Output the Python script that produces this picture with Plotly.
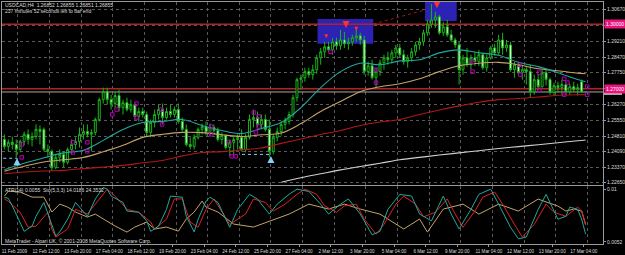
import plotly.graph_objects as go

# ---------------- data ----------------
bars = list(range(148))
opens = [1.2465,1.2433,1.2452,1.2442,1.2419,1.2456,1.2489,1.2465,1.2479,1.2512,
         1.2512,1.2419,1.2410,1.2336,1.2382,1.2396,1.2359,1.2419,1.2442,1.2456,
         1.2489,1.2502,1.2489,1.2498,1.2558,1.2650,1.2687,1.2650,1.2632,1.2669,
         1.2613,1.2636,1.2604,1.2627,1.2572,1.2595,1.2581,1.2498,1.2544,1.2581,
         1.2604,1.2567,1.2595,1.2581,1.2604,1.2549,1.2512,1.2442,1.2433,1.2475,
         1.2512,1.2525,1.2498,1.2521,1.2507,1.2465,1.2484,1.2428,1.2452,1.2465,
         1.2475,1.2419,1.2475,1.2558,1.2567,1.2535,1.2558,1.2512,1.2410,1.2475,
         1.2502,1.2535,1.2549,1.2581,1.2659,1.2743,1.2752,1.2780,1.2766,1.2789,
         1.2844,1.2872,1.2895,1.2881,1.2918,1.2900,1.2927,1.2909,1.2918,1.2937,
         1.2946,1.2927,1.2780,1.2807,1.2752,1.2780,1.2821,1.2844,1.2835,1.2867,
         1.2890,1.2858,1.2826,1.2844,1.2872,1.2904,1.2918,1.2960,1.3001,1.3020,
         1.3034,1.2960,1.2988,1.2951,1.2927,1.2904,1.2789,1.2844,1.2812,1.2844,
         1.2826,1.2858,1.2798,1.2844,1.2890,1.2867,1.2927,1.2890,1.2904,1.2789,
         1.2812,1.2775,1.2789,1.2780,1.2687,1.2743,1.2710,1.2775,1.2743,1.2683,
         1.2715,1.2706,1.2720,1.2687,1.2710,1.2696,1.2733,1.26852]
highs = [1.2489,1.2465,1.2479,1.2465,1.2465,1.2502,1.2512,1.2498,1.2535,1.2530,
         1.2521,1.2442,1.2419,1.2396,1.2419,1.2410,1.2428,1.2465,1.2475,1.2521,
         1.2535,1.2535,1.2512,1.2567,1.2659,1.2706,1.2706,1.2673,1.2687,1.2696,
         1.2650,1.2659,1.2650,1.2636,1.2613,1.2613,1.2595,1.2558,1.2604,1.2627,
         1.2632,1.2613,1.2627,1.2618,1.2632,1.2567,1.2535,1.2475,1.2489,1.2521,
         1.2539,1.2549,1.2539,1.2535,1.2521,1.2498,1.2489,1.2465,1.2479,1.2489,
         1.2512,1.2489,1.2581,1.2604,1.2595,1.2581,1.2581,1.2558,1.2489,1.2521,
         1.2549,1.2567,1.2595,1.2673,1.2752,1.2766,1.2798,1.2798,1.2812,1.2858,
         1.2890,1.2918,1.2918,1.2937,1.2937,1.2974,1.2964,1.2937,1.2951,1.2974,
         1.2960,1.2946,1.2826,1.2835,1.2798,1.2835,1.2858,1.2872,1.2881,1.2904,
         1.2909,1.2881,1.2858,1.2890,1.2918,1.2937,1.2974,1.3020,1.3094,1.3057,
         1.3043,1.3011,1.3020,1.2974,1.2937,1.2918,1.2858,1.2890,1.2858,1.2872,
         1.2881,1.2863,1.2858,1.2900,1.2909,1.2951,1.2960,1.2927,1.2918,1.2826,
         1.2826,1.2812,1.2807,1.2812,1.2766,1.2766,1.2789,1.2789,1.2752,1.2729,
         1.2733,1.2743,1.2733,1.2724,1.2733,1.2724,1.2743,1.26855]
lows = [1.2419,1.2410,1.2419,1.2382,1.2405,1.2438,1.2442,1.2433,1.2465,1.2442,
        1.2410,1.2382,1.2318,1.2327,1.2359,1.2336,1.2350,1.2396,1.2419,1.2428,
        1.2465,1.2475,1.2410,1.2484,1.2549,1.2632,1.2627,1.2604,1.2613,1.2595,
        1.2581,1.2595,1.2590,1.2558,1.2549,1.2567,1.2479,1.2475,1.2521,1.2558,
        1.2535,1.2558,1.2567,1.2567,1.2539,1.2502,1.2433,1.2419,1.2419,1.2465,
        1.2489,1.2484,1.2479,1.2489,1.2456,1.2442,1.2419,1.2387,1.2396,1.2419,
        1.2410,1.2405,1.2465,1.2521,1.2521,1.2512,1.2502,1.2382,1.2396,1.2456,
        1.2484,1.2512,1.2535,1.2567,1.2641,1.2696,1.2733,1.2752,1.2743,1.2770,
        1.2812,1.2844,1.2872,1.2858,1.2881,1.2881,1.2890,1.2881,1.2900,1.2918,
        1.2904,1.2766,1.2761,1.2743,1.2706,1.2761,1.2789,1.2812,1.2817,1.2844,
        1.2844,1.2812,1.2798,1.2826,1.2854,1.2881,1.2900,1.2946,1.2983,1.2983,
        1.2951,1.2946,1.2941,1.2918,1.2890,1.2720,1.2766,1.2803,1.2789,1.2807,
        1.2807,1.2789,1.2780,1.2835,1.2854,1.2858,1.2858,1.2872,1.2780,1.2752,
        1.2766,1.2743,1.2720,1.2659,1.2673,1.2696,1.2706,1.2715,1.2673,1.2669,
        1.2683,1.2673,1.2673,1.2673,1.2687,1.2669,1.2683,1.26851]
closes = [1.2433,1.2452,1.2442,1.2419,1.2456,1.2489,1.2465,1.2479,1.2512,1.2502,
          1.2419,1.2410,1.2336,1.2382,1.2396,1.2359,1.2419,1.2442,1.2456,1.2489,
          1.2502,1.2489,1.2498,1.2558,1.2650,1.2687,1.2650,1.2632,1.2669,1.2613,
          1.2636,1.2604,1.2627,1.2572,1.2595,1.2581,1.2498,1.2544,1.2581,1.2604,
          1.2567,1.2595,1.2581,1.2604,1.2549,1.2512,1.2442,1.2433,1.2475,1.2512,
          1.2525,1.2498,1.2521,1.2507,1.2465,1.2484,1.2428,1.2452,1.2465,1.2475,
          1.2419,1.2475,1.2558,1.2567,1.2535,1.2558,1.2512,1.2410,1.2475,1.2502,
          1.2535,1.2549,1.2581,1.2659,1.2743,1.2752,1.2780,1.2766,1.2789,1.2844,
          1.2872,1.2895,1.2881,1.2918,1.2900,1.2927,1.2909,1.2918,1.2937,1.2946,
          1.2927,1.2780,1.2807,1.2752,1.2780,1.2821,1.2844,1.2835,1.2867,1.2890,
          1.2858,1.2826,1.2844,1.2872,1.2904,1.2918,1.2960,1.3001,1.3020,1.3034,
          1.2960,1.2988,1.2951,1.2927,1.2904,1.2789,1.2844,1.2812,1.2844,1.2826,
          1.2858,1.2798,1.2844,1.2890,1.2867,1.2927,1.2890,1.2904,1.2789,1.2812,
          1.2775,1.2789,1.2780,1.2687,1.2743,1.2710,1.2775,1.2743,1.2683,1.2715,
          1.2706,1.2720,1.2687,1.2710,1.2696,1.2706,1.26852,1.26855]

ma_bars = [0,5,10,15,20,25,30,35,40,45,50,55,60,65,70,75,80,85,90,95,100,105,110,115,120,125,130,135,140,145,147]
ma_fast = [1.2325,1.2355,1.2380,1.2403,1.2415,1.2461,1.2512,1.2544,1.2549,1.2558,1.2530,1.2507,1.2493,1.2516,1.2544,1.2613,
           1.2706,1.2780,1.2819,1.2812,1.2830,1.2835,1.2867,1.2881,1.2867,1.2856,1.2823,1.2803,1.2775,1.2743,1.2733]
ma_mid = [1.2318,1.2341,1.2361,1.2371,1.2382,1.2408,1.2438,1.2475,1.2489,1.2498,1.2497,1.2487,1.2479,1.2487,1.2495,1.2539,
          1.2595,1.2641,1.2687,1.2710,1.2724,1.2747,1.2780,1.2807,1.2819,1.2823,1.2812,1.2793,1.2784,1.2773,1.2770]
ma_slow = [1.2306,1.2314,1.2319,1.2322,1.2330,1.2337,1.2345,1.2357,1.2368,1.2389,1.2405,1.2409,1.2417,1.2426,1.2447,1.2467,
           1.2488,1.2507,1.2530,1.2546,1.2558,1.2581,1.2602,1.2621,1.2638,1.2650,1.2655,1.2662,1.2670,1.2673,1.2673]
ma_long_bars = [70,75,80,85,90,95,100,105,110,115,120,125,130,135,140,145,147]
ma_long = [1.2267,1.2288,1.2306,1.2324,1.2340,1.2355,1.2371,1.2382,1.2393,1.2403,1.2413,1.2423,1.2432,1.2441,1.2450,1.2459,1.2463]

sto_main_bars = [0,1,2,4,5,7,8,10,11,13,14,16,18,20,21,23,25,26,27,30,31,34,36,37,39,41,42,45,46,48,49,51,52,54,57,59,
                 62,64,67,69,72,74,77,80,82,85,87,90,93,95,97,100,103,105,108,111,113,115,118,120,123,125,128,130,132,
                 135,137,140,142,143,145,146,147]
sto_main = [81,79,66,38,22,31,48,72,52,14,21,43,72,57,48,78,98,95,83,72,57,55,40,22,31,60,83,81,48,21,43,74,81,72,29,60,
            86,78,52,69,86,95,91,69,52,69,78,52,16,22,60,86,83,52,40,83,52,26,60,86,95,69,29,9,12,60,86,43,48,64,60,43,17]
sto_sig_bars = [0,1,4,6,8,11,12,13,16,18,21,24,26,28,31,34,37,38,41,43,45,47,49,51,53,57,61,63,66,68,71,74,76,79,81,84,
                86,89,91,94,96,99,101,104,106,109,112,114,116,119,121,124,126,129,131,134,137,139,142,145,146,147]
sto_sig = [78,74,55,29,31,55,26,12,26,60,52,78,95,83,60,55,38,26,43,78,78,38,29,60,78,34,52,78,72,57,69,86,95,86,66,55,
           66,69,43,17,34,69,83,69,47,55,78,52,29,57,81,90,69,34,12,34,69,55,48,64,57,33]
atr_bars = [0,1,4,7,10,12,14,16,18,21,23,26,28,31,33,36,38,41,44,46,48,50,51,54,58,63,67,72,77,82,86,90,95,101,105,107,
            111,116,120,125,130,135,140,142,144,146,147]
atr = [0.00937,0.00983,0.00974,0.00928,0.00928,0.00792,0.00864,0.00837,0.00792,0.00746,0.00773,0.00710,0.00664,0.00609,
       0.00655,0.00700,0.00637,0.00655,0.00618,0.00728,0.00792,0.00892,0.00837,0.00792,0.00682,0.00655,0.00710,0.00773,
       0.00864,0.00819,0.00864,0.00819,0.00773,0.00637,0.00728,0.00609,0.00819,0.00864,0.00773,0.00864,0.00801,0.00910,
       0.00846,0.00801,0.00819,0.00801,0.00680]

fractal_x = [4.4,4.4,17.3,17.3,21.0,21.0,27.3,28.4,33.4,33.4,39.7,39.9,52.3,52.3,56.8,57.5,58.5,63.1,64.3,64.3,63.6,82.5,
             94.0,94.0,118.4,118.4,130.3,130.5,135.3,135.3,141.6,142.4,141.6,147.4,147.4]
fractal_y = [1.2442,1.2382,1.2452,1.2405,1.2452,1.2410,1.2581,1.2604,1.2632,1.2567,1.2604,1.2535,1.2525,1.2489,1.2452,1.2387,
             1.2387,1.2590,1.2572,1.2525,1.2498,1.2872,1.2789,1.2729,1.2826,1.2780,1.2812,1.2766,1.2775,1.2696,1.2747,1.2729,
             1.2673,1.2710,1.2673]
sell_x = [86.4, 109.4]
sell_y = [1.2982, 1.3074]
sell_small_x = [81.4, 89.0]
sell_small_y = [1.2935, 1.2969]
buy_x = [3.2, 67.4]
buy_y = [1.2378, 1.2388]

price_ticks = [1.30670,1.29930,1.29210,1.28470,1.27750,1.27010,1.26270,1.25550,1.24810,1.24090,1.23370,1.22650]
grid_bars = [3.42 + 8*k for k in range(19)]
label_bars = [2.54 + 8*k for k in range(19)]
time_labels = ["11 Feb 2009","12 Feb 12:00","13 Feb 20:00","17 Feb 04:00","18 Feb 12:00","19 Feb 20:00",
               "23 Feb 04:00","24 Feb 12:00","25 Feb 20:00","27 Feb 04:00","2 Mar 12:00","3 Mar 20:00",
               "5 Mar 04:00","6 Mar 12:00","9 Mar 20:00","11 Mar 04:00","12 Mar 12:00","13 Mar 20:00","17 Mar 04:00"]
level_high = 1.3000
level_low = 1.2700
bid = 1.26855

# ---------------- figure ----------------
FONT = "Liberation Sans"
GRID = "#595959"
FRAME = "#9a9a9a"
XR = [-0.604, 151.42]
fig = go.Figure()

fig.add_trace(go.Candlestick(
    x=bars, open=opens, high=highs, low=lows, close=closes,
    increasing=dict(line=dict(color="#18b418", width=1), fillcolor="#000000"),
    decreasing=dict(line=dict(color="#18b418", width=1), fillcolor="#e6ffe6"),
    whiskerwidth=0, xaxis="x", yaxis="y", hoverinfo="skip"))

for xs, ys, col in [(ma_long_bars, ma_long, "#cfcfcf"), (ma_bars, ma_slow, "#b01818"),
                    (ma_bars, ma_mid, "#c4a468"), (ma_bars, ma_fast, "#1fa8a0")]:
    fig.add_trace(go.Scatter(x=xs, y=ys, mode="lines", line=dict(color=col, width=1.1, shape="spline"),
                             xaxis="x", yaxis="y", hoverinfo="skip"))

fig.add_trace(go.Scatter(x=fractal_x, y=fractal_y, mode="markers",
                         marker=dict(symbol="square-open", size=3.5, color="#b000b0",
                                     line=dict(width=1, color="#b000b0")),
                         xaxis="x", yaxis="y", hoverinfo="skip"))
fig.add_trace(go.Scatter(x=sell_x, y=sell_y, mode="markers",
                         marker=dict(symbol="arrow-down", size=7, color="#ff3030"), xaxis="x", yaxis="y"))
fig.add_trace(go.Scatter(x=sell_small_x, y=sell_small_y, mode="markers",
                         marker=dict(symbol="arrow-down", size=4, color="#ff3030"), xaxis="x", yaxis="y"))
fig.add_trace(go.Scatter(x=buy_x, y=buy_y, mode="markers",
                         marker=dict(symbol="arrow-up", size=7, color="#87cefa"), xaxis="x", yaxis="y"))
fig.add_trace(go.Scatter(x=[-0.3, buy_x[0]], y=[buy_y[0], buy_y[0]], mode="lines",
                         line=dict(color="#87cefa", width=1, dash="dot"), xaxis="x", yaxis="y"))
fig.add_trace(go.Scatter(x=[60.1, buy_x[1]], y=[1.2396, 1.2396], mode="lines",
                         line=dict(color="#87cefa", width=1, dash="dot"), xaxis="x", yaxis="y"))
fig.add_trace(go.Scatter(x=[93.3, 106.6], y=[1.3001, 1.3067], mode="lines",
                         line=dict(color="#a01818", width=1, dash="dot"), xaxis="x", yaxis="y"))

# indicator panel
fig.add_trace(go.Scatter(x=atr_bars, y=atr, mode="lines", line=dict(color="#c4a468", width=1),
                         xaxis="x2", yaxis="y2"))
fig.add_trace(go.Scatter(x=sto_sig_bars, y=sto_sig, mode="lines", line=dict(color="#e02020", width=1),
                         xaxis="x2", yaxis="y3"))
fig.add_trace(go.Scatter(x=sto_main_bars, y=sto_main, mode="lines", line=dict(color="#1fa8a0", width=1),
                         xaxis="x2", yaxis="y3"))
fig.add_trace(go.Scatter(x=[0], y=[0.006], mode="markers", marker=dict(opacity=0), xaxis="x3", yaxis="y2"))

# shapes
fig.add_shape(type="rect", xref="x", yref="y", x0=79.2, x1=93.3, y0=1.2909, y1=1.3024,
              fillcolor="#2c22b4", line=dict(width=0), layer="between")
fig.add_shape(type="rect", xref="x", yref="y", x0=106.4, x1=114.4, y0=1.3015, y1=1.3103,
              fillcolor="#2c22b4", line=dict(width=0), layer="between")
for lv in (level_high, level_low):
    fig.add_shape(type="line", xref="x", yref="y", x0=XR[0], x1=XR[1], y0=lv, y1=lv,
                  line=dict(color="#b22222", width=1.5), layer="between")
fig.add_shape(type="line", xref="x", yref="y", x0=XR[0], x1=XR[1], y0=bid, y1=bid,
              line=dict(color="#a8a8a8", width=1), layer="between")
# bid price tag (mostly hidden behind the pink level tag)
fig.add_shape(type="rect", xref="paper", yref="y", x0=607/625, x1=1.0, y0=bid - 0.0013, y1=bid - 0.0002,
              fillcolor="#e0e0e0", line=dict(width=0), layer="above")

tf = dict(family=FONT, size=5, color="#dcdcdc")
axis_common = dict(showline=True, mirror=True, linecolor=FRAME, linewidth=1, zeroline=False,
                   gridcolor=GRID, griddash="dot", gridwidth=1)
fig.update_layout(
    width=625, height=255, margin=dict(l=0, r=0, t=0, b=0),
    paper_bgcolor="#000000", plot_bgcolor="#000000", showlegend=False,
    font=dict(family=FONT, size=5, color="#dcdcdc"),
    xaxis=dict(domain=[0.0032, 0.9696], range=XR, anchor="y", tickvals=grid_bars, showticklabels=False,
               showgrid=True, rangeslider=dict(visible=False), ticks="", **axis_common),
    yaxis=dict(domain=[0.2725, 0.9922], range=[1.2255, 1.3103], anchor="x", side="right",
               tickvals=price_ticks, ticktext=["%.5f" % v for v in price_ticks], tickfont=tf,
               ticks="outside", ticklen=2, tickcolor=FRAME, showgrid=True, **axis_common),
    xaxis2=dict(domain=[0.0032, 0.9696], range=XR, anchor="y2", tickvals=grid_bars, showticklabels=False,
                showgrid=True, ticks="", **axis_common),
    yaxis2=dict(domain=[0.0392, 0.2667], range=[0.0050, 0.01027], anchor="x2", side="right",
                tickvals=[0.01, 0.0052], ticktext=["0.01", "0.0052"], tickfont=tf, ticks="outside",
                ticklen=2, tickcolor=FRAME, showgrid=False, **axis_common),
    yaxis3=dict(range=[0, 100], overlaying="y2", visible=False),
    xaxis3=dict(range=XR, overlaying="x2", anchor="y2", side="bottom", tickvals=label_bars, ticktext=time_labels,
                tickfont=dict(family=FONT, size=4.6, color="#dcdcdc"), tickangle=0, showgrid=False,
                zeroline=False, ticks="outside", ticklen=2, tickcolor=FRAME, showline=False),
)

fig.add_annotation(xref="paper", yref="paper", x=0.005, y=1 - 5/255, xanchor="left", yanchor="middle",
                   text="USDCAD,H4  1.26852 1.26855 1.26851 1.26855", showarrow=False, font=tf)
fig.add_annotation(xref="paper", yref="paper", x=0.005, y=1 - 11/255, xanchor="left", yanchor="middle",
                   text="237 minutes 52 seconds left to bar end", showarrow=False, font=tf)
fig.add_annotation(xref="paper", yref="paper", x=0.005, y=1 - 191/255, xanchor="left", yanchor="middle",
                   text="ATR(14) 0.0055  Sto(5,3,3) 14.0186 24.3532", showarrow=False, font=tf)
fig.add_annotation(xref="paper", yref="paper", x=0.005, y=1 - 241.5/255, xanchor="left", yanchor="middle",
                   text="MetaTrader - Alpari UK, © 2001-2008 MetaQuotes Software Corp.", showarrow=False, font=tf)
for lv in (level_high, level_low):
    fig.add_annotation(xref="paper", yref="y", x=607/625, y=lv, xanchor="left", yanchor="middle",
                       text="%.5f" % lv, showarrow=False, bgcolor="#e8157f", borderpad=1,
                       font=dict(family=FONT, size=5, color="#ffffff"))

fig.write_html("out.html")
